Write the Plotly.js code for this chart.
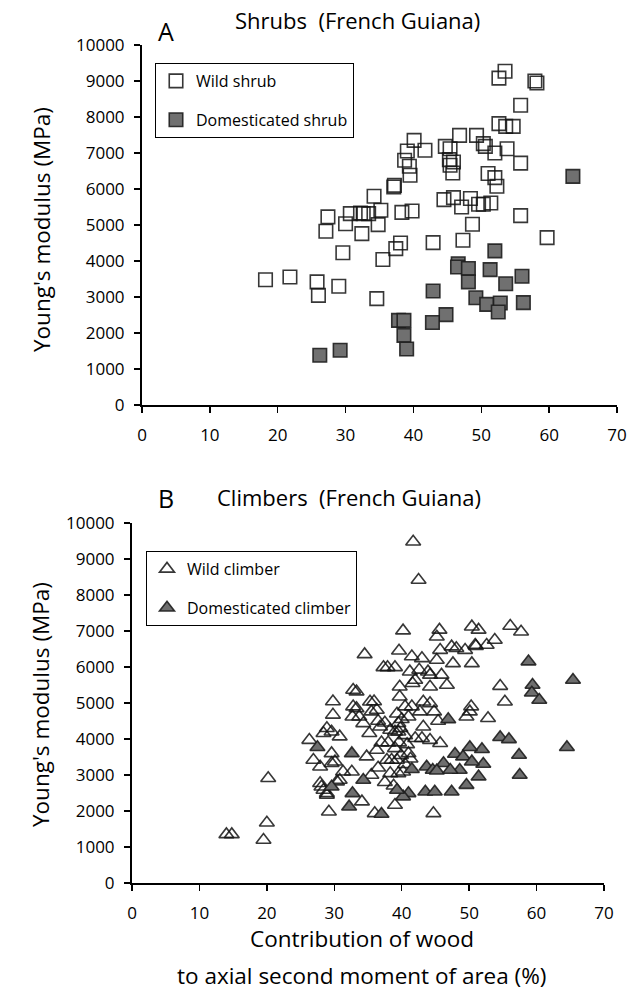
<!DOCTYPE html>
<html>
<head>
<meta charset="utf-8">
<script src="https://cdn.plot.ly/plotly-3.0.1.min.js"></script>
<style>html,body{margin:0;padding:0;background:#fff;}#chart{width:635px;height:992px;}</style>
</head>
<body>
<div id="chart"></div>
<script>
// ---------- Panel A: Shrubs ----------
const wildShrubX = [53.5,52.6,57.9,58.2,55.8,52.6,53.6,54.7,40.1,41.7,39.1,38.7,39.4,39.5,37.2,37.1,46.8,49.3,44.7,45.4,45.3,45.9,45.4,45.8,50.3,50.6,52.0,53.8,55.8,51.0,52.0,52.3,34.2,35.2,32.6,32.2,33.4,30.7,27.4,30.0,27.1,32.4,34.8,38.3,39.8,44.5,45.9,47.1,48.4,49.6,50.3,51.4,48.7,55.8,59.7,47.3,42.9,38.1,37.4,35.5,29.6,18.2,21.8,25.8,26.0,29.0,34.6];
const wildShrubY = [9270,9080,9000,8945,8325,7815,7740,7740,7350,7075,7055,6800,6630,6380,6100,6055,7490,7490,7185,7120,6815,6750,6660,6445,7260,7185,7000,7120,6720,6430,6315,6075,5800,5410,5315,5335,5315,5315,5225,5035,4825,4760,5010,5350,5390,5705,5760,5500,5735,5575,5575,5610,5020,5260,4650,4575,4510,4500,4345,4040,4230,3480,3555,3420,3045,3300,2955];
const domShrubX = [63.5,52.0,46.6,46.5,48.1,51.3,48.1,53.6,56.0,42.9,49.2,50.8,52.8,52.5,56.2,44.8,42.8,37.8,38.6,38.6,39.0,26.2,29.2];
const domShrubY = [6350,4280,3925,3835,3790,3760,3420,3370,3575,3165,2980,2795,2835,2585,2845,2510,2290,2350,2350,1935,1555,1380,1520];

// ---------- Panel B: Climbers ----------
const wildClimbX = [14.0,14.8,19.5,20.0,20.2,
 34.5,37.3,37.9,39.0,39.6,32.8,33.3,29.8,35.9,32.8,29.8,32.7,33.7,35.5,34.3,36.8,28.9,29.6,28.4,30.8,26.3,35.2,38.3,39.0,39.5,
 29.6,26.9,27.9,30.1,34.8,36.3,37.8,38.5,39.3,38.3,39.5,31.3,32.6,30.8,30.4,28.1,28.9,34.1,29.2,36.0,39.0,29.6,27.9,28.4,28.9,
 41.7,42.5,40.2,45.6,45.2,50.4,51.4,53.8,41.5,43.0,45.7,47.4,48.1,49.4,50.9,52.6,50.4,47.6,45.2,41.2,42.6,43.9,44.2,45.9,42.0,41.6,44.2,46.7,39.7,
 35.3,36.3,33.3,39.7,40.5,43.2,44.2,42.7,44.8,52.8,49.6,
 56.1,57.7,51.0,54.6,55.3,41.5,45.4,50.3,50.1,41.0,43.2,39.5,42.0,43.0,44.2,45.7,41.0,39.0,40.2,44.7,
 39.3,40.0,39.8,40.5,39.6,40.8,39.9,40.5,41.3,36.5,37.5,38.0,37.0,36.5,35.5,37.5,38.8];
const wildClimbY = [1350,1350,1195,1675,2910,
 6350,5990,5990,5990,6450,5360,5315,5040,5040,4900,4670,4620,4620,4760,4435,4340,4300,4200,4160,4065,3970,4160,4250,4200,4200,
 3600,3415,3230,3370,3510,3695,3415,3415,3415,3045,3045,3090,3090,2860,2815,2675,2490,2260,1980,1935,2165,3325,2770,2585,2445,
 9480,8415,7010,7030,6840,7120,7030,6750,6290,6240,6470,6565,6520,6470,6610,6610,6100,6100,6195,5870,5920,5870,5780,5780,5640,5550,5450,5500,5450,
 5035,4805,4850,5175,4900,5035,4990,4760,4760,4575,4620,
 7140,6980,6580,5470,5035,4900,4500,4900,4760,4620,4340,4435,4020,4020,3970,3880,3600,3740,3090,1935,
 4700,4550,4300,4100,3900,3850,3550,3300,3450,4500,4450,3900,3900,3200,3000,2800,2700];
const domClimbX = [58.8,65.4,59.4,59.3,60.4,46.9,54.6,55.9,64.5,57.4,57.5,51.9,50.1,47.9,49.1,52.1,50.4,48.6,46.2,43.7,44.6,45.2,47.2,41.5,51.4,49.6,43.5,44.9,47.4,41.0,40.2,39.3,
 27.5,32.6,29.6,34.3,32.7,32.2,37.0];
const domClimbY = [6150,5640,5500,5285,5085,4545,4050,3990,3770,3555,3000,3715,3770,3585,3510,3305,3370,3140,3325,3230,3140,3120,3140,3160,2955,2720,2535,2535,2535,2490,2400,2585,
 3770,3600,2675,2860,2490,2120,1915];

const xTicks = [0,10,20,30,40,50,60,70];
const yTicks = [0,1000,2000,3000,4000,5000,6000,7000,8000,9000,10000];

const FONT = "Open Sans, Lato, sans-serif";
const W = 635, H = 992;
const px = v => v / W;
const py = v => 1 - v / H;

const openLine = {color: 'rgba(20,20,20,0.85)', width: 1.6};
const fillLine = {color: 'rgba(30,30,30,0.9)', width: 1.6};

const traces = [
  {x: wildShrubX, y: wildShrubY, type: 'scatter', mode: 'markers', name: 'Wild shrub',
   xaxis: 'x', yaxis: 'y', legend: 'legend', legendgroup: 'a1',
   marker: {symbol: 'square', size: 13.5, color: 'rgba(255,255,255,0)', line: openLine}, cliponaxis: false},
  {x: domShrubX, y: domShrubY, type: 'scatter', mode: 'markers', name: 'Domesticated shrub',
   xaxis: 'x', yaxis: 'y', legend: 'legend', legendgroup: 'a2',
   marker: {symbol: 'square', size: 13.5, color: '#707070', line: fillLine}, cliponaxis: false},
  {x: wildClimbX, y: wildClimbY, type: 'scatter', mode: 'markers', name: 'Wild climber',
   xaxis: 'x2', yaxis: 'y2', legend: 'legend2', legendgroup: 'b1',
   marker: {symbol: 'triangle-up', size: 13, color: 'rgba(255,255,255,0)', line: openLine}, cliponaxis: false},
  {x: domClimbX, y: domClimbY, type: 'scatter', mode: 'markers', name: 'Domesticated climber',
   xaxis: 'x2', yaxis: 'y2', legend: 'legend2', legendgroup: 'b2',
   marker: {symbol: 'triangle-up', size: 13, color: '#6e6e6e', line: fillLine}, cliponaxis: false}
];

function xAxis(domain, anchor) {
  return {domain: domain, anchor: anchor, range: [0, 70], tickvals: xTicks, ticktext: xTicks.map(String),
    showgrid: false, zeroline: false, showline: true, linecolor: '#000', linewidth: 2,
    ticks: 'outside', ticklen: 6, tickwidth: 1.5, tickcolor: '#000', ticklabelstandoff: 8,
    tickfont: {family: FONT, size: 17, color: '#000'}, fixedrange: true};
}
function yAxis(domain, anchor) {
  return {domain: domain, anchor: anchor, range: [0, 10000], tickvals: yTicks, ticktext: yTicks.map(String),
    showgrid: false, zeroline: false, showline: true, linecolor: '#000', linewidth: 2,
    ticks: 'outside', ticklen: 6, tickwidth: 1.5, tickcolor: '#000', ticklabelstandoff: 6,
    tickfont: {family: FONT, size: 17, color: '#000'}, fixedrange: true};
}

const legendBase = {xanchor: 'left', yanchor: 'top', bgcolor: '#fff', bordercolor: '#000', borderwidth: 1,
  font: {family: FONT, size: 16, color: '#000'}, tracegroupgap: 15, itemwidth: 30};

const TFONT = {family: FONT, size: 22, color: '#000'};
const AFONT = {family: FONT, size: 22.5, color: '#000'};

const layout = {
  width: W, height: H,
  margin: {l: 0, r: 0, t: 0, b: 0},
  paper_bgcolor: '#fff', plot_bgcolor: '#fff',
  showlegend: true,
  xaxis: xAxis([px(142), px(617)], 'y'),
  yaxis: yAxis([py(405), py(45)], 'x'),
  xaxis2: xAxis([px(132), px(604)], 'y2'),
  yaxis2: yAxis([py(883), py(523)], 'x2'),
  legend: Object.assign({}, legendBase, {x: px(155), y: py(63)}),
  legend2: Object.assign({}, legendBase, {x: px(146), y: py(551)}),
  annotations: [
    {text: 'Shrubs  (French Guiana)', xref: 'paper', yref: 'paper', x: px(357), y: py(20), xanchor: 'center', yanchor: 'middle', showarrow: false, font: TFONT},
    {text: 'A', xref: 'paper', yref: 'paper', x: px(166), y: py(31), xanchor: 'center', yanchor: 'middle', showarrow: false, font: {family: FONT, size: 25, color: '#000'}},
    {text: 'Climbers  (French Guiana)', xref: 'paper', yref: 'paper', x: px(349), y: py(497), xanchor: 'center', yanchor: 'middle', showarrow: false, font: TFONT},
    {text: 'B', xref: 'paper', yref: 'paper', x: px(166), y: py(498), xanchor: 'center', yanchor: 'middle', showarrow: false, font: {family: FONT, size: 25, color: '#000'}},
    {text: "Young's modulus (MPa)", xref: 'paper', yref: 'paper', x: px(42), y: py(230), xanchor: 'center', yanchor: 'middle', textangle: -90, showarrow: false, font: AFONT},
    {text: "Young's modulus (MPa)", xref: 'paper', yref: 'paper', x: px(40), y: py(705), xanchor: 'center', yanchor: 'middle', textangle: -90, showarrow: false, font: AFONT},
    {text: 'Contribution of wood', xref: 'paper', yref: 'paper', x: px(362), y: py(938), xanchor: 'center', yanchor: 'middle', showarrow: false, font: AFONT},
    {text: 'to axial second moment of area (%)', xref: 'paper', yref: 'paper', x: px(361), y: py(975), xanchor: 'center', yanchor: 'middle', showarrow: false, font: AFONT}
  ]
};

Plotly.newPlot('chart', traces, layout, {staticPlot: true, displayModeBar: false});
</script>
</body>
</html>
